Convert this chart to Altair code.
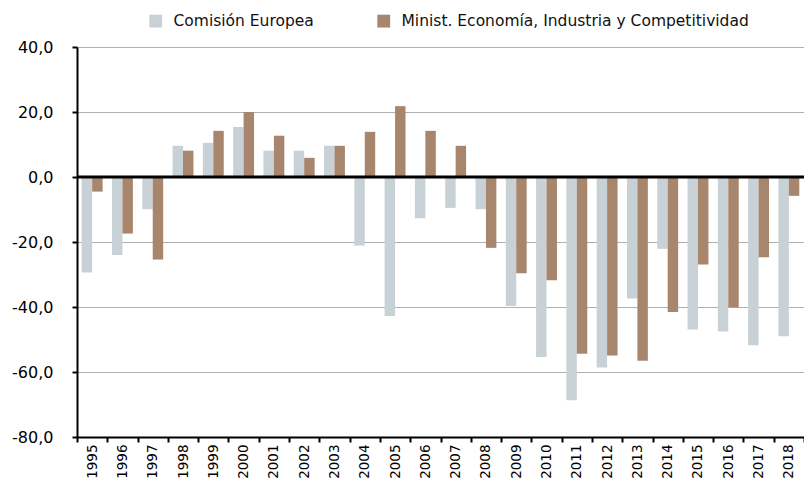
import altair as alt
import pandas as pd

years = ["1995", "1996", "1997", "1998", "1999", "2000", "2001", "2002", "2003", "2004",
         "2005", "2006", "2007", "2008", "2009", "2010", "2011", "2012", "2013", "2014",
         "2015", "2016", "2017", "2018"]
comision = [-29.4, -24.0, -9.9, 9.6, 10.5, 15.4, 8.1, 8.1, 9.6, -21.1,
            -42.8, -12.7, -9.5, -9.9, -39.7, -55.4, -68.7, -58.6, -37.4, -22.1,
            -46.9, -47.5, -51.8, -49.0]
ministerio = [-4.5, -17.4, -25.4, 8.1, 14.2, 20.0, 12.7, 5.9, 9.6, 13.9,
              21.8, 14.2, 9.6, -21.8, -29.6, -31.8, -54.4, -54.9, -56.5, -41.5,
              -26.9, -40.1, -24.7, -5.8]
series = ["Comisión Europea", "Minist. Economía, Industria y Competitividad"]
colors = ["#c8d1d6", "#a8866e"]
y_ticks = [-80, -60, -40, -20, 0, 20, 40]

rows = []
for i, y in enumerate(years):
    rows.append({"year": y, "series": series[0], "value": comision[i]})
    rows.append({"year": y, "series": series[1], "value": ministerio[i]})
df = pd.DataFrame(rows)

FONT = "DejaVu Sans"

yscale = alt.Scale(domain=[-80, 40], nice=False)

bars = alt.Chart(df).mark_bar().encode(
    x=alt.X("year:N", sort=years,
            scale=alt.Scale(paddingInner=0, paddingOuter=0),
            axis=alt.Axis(title=None, labelAngle=270, tickBand="extent",
                          labelFontSize=13.5, labelFont=FONT, labelColor="#000",
                          labelPadding=2, tickSize=5, tickWidth=2, tickColor="#000",
                          domainColor="#000", domainWidth=2, grid=False)),
    xOffset=alt.XOffset("series:N", sort=series,
                        scale=alt.Scale(paddingInner=0, paddingOuter=0.45)),
    y=alt.Y("value:Q", scale=yscale,
            axis=alt.Axis(title=None, values=y_ticks,
                          labelExpr="(datum.value < 0 ? '-' : '') + replace(format(abs(datum.value), '.1f'), '.', ',')",
                          labelFontSize=16, labelFont=FONT, labelColor="#000",
                          labelPadding=19, tickSize=5, tickWidth=2, tickColor="#000",
                          domainColor="#000", domainWidth=2,
                          grid=True, gridColor="#b0b0b0", gridWidth=1)),
    color=alt.Color("series:N",
                    scale=alt.Scale(domain=series, range=colors),
                    legend=alt.Legend(title=None, orient="none", legendX=71, legendY=-34,
                                      direction="horizontal", symbolType="square",
                                      symbolSize=165, symbolStrokeWidth=0,
                                      labelFontSize=15.5, labelFont=FONT, labelColor="#111",
                                      labelLimit=600, labelOffset=10, columnPadding=62)),
)

zero = alt.Chart(pd.DataFrame({"v": [0]})).mark_rule(color="#000", strokeWidth=3).encode(
    y=alt.Y("v:Q", scale=yscale)
)

chart = alt.layer(bars, zero).properties(
    width=727, height=390,
    autosize=alt.AutoSizeParams(type="none"),
    padding={"left": 69, "top": 39, "right": 0, "bottom": 43},
).configure_view(stroke=None)

chart.save("out.html", embed_options={"renderer": "svg", "actions": False})
